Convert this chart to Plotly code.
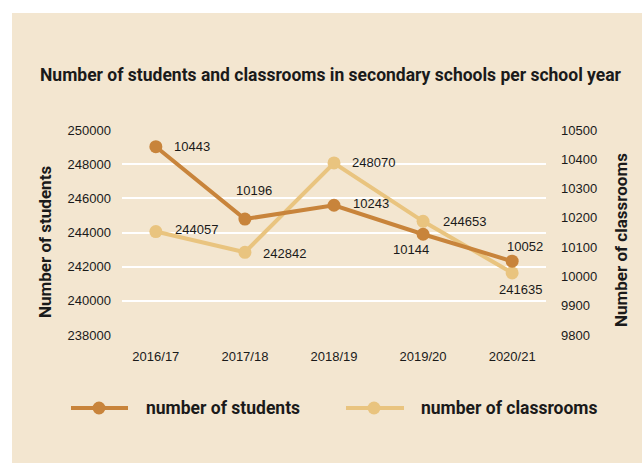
import plotly.graph_objects as go

# School years and series values
years = ["2016/17", "2017/18", "2018/19", "2019/20", "2020/21"]
students_series = [10443, 10196, 10243, 10144, 10052]
classrooms_series = [244057, 242842, 248070, 244653, 241635]

left_ticks = [238000, 240000, 242000, 244000, 246000, 248000, 250000]
right_ticks = [9800, 9900, 10000, 10100, 10200, 10300, 10400, 10500]

# Label offsets (pixels) relative to each point
students_shift = [(16, 0, "left"), (9, 29, "center"), (17, 2, "left"), (-12, -15, "center"), (13, 15, "center")]
classrooms_shift = [(17, 2, "left"), (16, -1, "left"), (16, 0, "left"), (18, 0, "left"), (8, -17, "center")]

DARK = "#C8843B"
LIGHT = "#E9C47F"
BG = "#F3E6D0"
TXT = "#1a1a1a"
BOLD_FONT = "Roboto, Arial, sans-serif"
REG_FONT = "Liberation Sans, Arial, sans-serif"

W, H = 642, 463
L, R, T, B = 122, 96, 130, 128
PW, PH = W - L - R, H - T - B


def px(x):
    return (x - L) / PW


def py(y):
    return (H - B - y) / PH


fig = go.Figure()

fig.add_trace(go.Scatter(
    x=years, y=classrooms_series, yaxis="y", name="number of classrooms",
    mode="lines+markers",
    line=dict(color=LIGHT, width=4), marker=dict(color=LIGHT, size=13),
    cliponaxis=False, showlegend=False,
))

fig.add_trace(go.Scatter(
    x=years, y=students_series, yaxis="y2", name="number of students",
    mode="lines+markers",
    line=dict(color=DARK, width=4), marker=dict(color=DARK, size=13),
    cliponaxis=False, showlegend=False,
))

annotations = []
for yref, vals, shifts in (("y", classrooms_series, classrooms_shift),
                           ("y2", students_series, students_shift)):
    for yr, v, (dx, dy, anchor) in zip(years, vals, shifts):
        annotations.append(dict(
            text=str(v), x=yr, y=v, xref="x", yref=yref, showarrow=False,
            xanchor=anchor, yanchor="middle", xshift=dx, yshift=dy,
            font=dict(family=REG_FONT, size=13, color=TXT)))

shapes = [
    dict(type="rect", xref="paper", yref="paper", x0=px(12), x1=px(W + 5),
         y0=py(H + 5), y1=py(13), fillcolor=BG, line=dict(width=0), layer="below"),
]
annotations += [
    dict(text="Number of students and classrooms in secondary schools per school year",
         xref="paper", yref="paper", x=px(331), y=py(75), showarrow=False,
         xanchor="center", yanchor="middle",
         font=dict(family=BOLD_FONT, size=17.5, color=TXT, weight="bold")),
    dict(text="Number of students", xref="paper", yref="paper", x=px(45), y=py(242),
         textangle=-90, showarrow=False, xanchor="center", yanchor="middle",
         font=dict(family=BOLD_FONT, size=17, color=TXT, weight="bold")),
    dict(text="Number of classrooms", xref="paper", yref="paper", x=px(621), y=py(240),
         textangle=-90, showarrow=False, xanchor="center", yanchor="middle",
         font=dict(family=BOLD_FONT, size=17, color=TXT, weight="bold")),
]

# Legend drawn as line + dot + label
legend_items = [("number of students", DARK, 71, 128, 99, 144),
                ("number of classrooms", LIGHT, 346, 404, 374, 419)]
ly = py(408)
for label, color, x0, x1, cx, tx in legend_items:
    shapes.append(dict(type="line", xref="paper", yref="paper", x0=px(x0), x1=px(x1),
                       y0=ly, y1=ly, line=dict(color=color, width=4)))
    shapes.append(dict(type="circle", xref="paper", yref="paper", xsizemode="pixel",
                       ysizemode="pixel", xanchor=px(cx), yanchor=ly,
                       x0=-6.5, x1=6.5, y0=-6.5, y1=6.5,
                       fillcolor=color, line=dict(width=0)))
    annotations.append(dict(text=label, xref="paper", yref="paper", x=px(tx), y=ly,
                            xanchor="left", yanchor="middle", showarrow=False,
                            font=dict(family=BOLD_FONT, size=17.5, color=TXT, weight="bold")))

fig.update_layout(
    width=W, height=H,
    margin=dict(l=L, r=R, t=T, b=B, pad=0),
    paper_bgcolor="white", plot_bgcolor="rgba(0,0,0,0)",
    shapes=shapes, annotations=annotations,
    xaxis=dict(type="category", range=[-0.38, 4.38], showgrid=False, zeroline=False,
               showline=False, ticks="", ticklabelstandoff=12,
               tickfont=dict(family=REG_FONT, size=13, color=TXT)),
    yaxis=dict(range=[238000, 250000], tickvals=left_ticks,
               ticktext=[str(v) for v in left_ticks], showgrid=True,
               gridcolor="white", gridwidth=2, zeroline=False, showline=False,
               ticks="", ticklabelstandoff=10,
               tickfont=dict(family=REG_FONT, size=13, color=TXT)),
    yaxis2=dict(range=[9800, 10500], tickvals=right_ticks,
                ticktext=[str(v) for v in right_ticks], overlaying="y", side="right",
                showgrid=False, zeroline=False, showline=False, ticks="",
                ticklabelstandoff=14,
                tickfont=dict(family=REG_FONT, size=13, color=TXT)),
)

fig.write_html("out.html")
